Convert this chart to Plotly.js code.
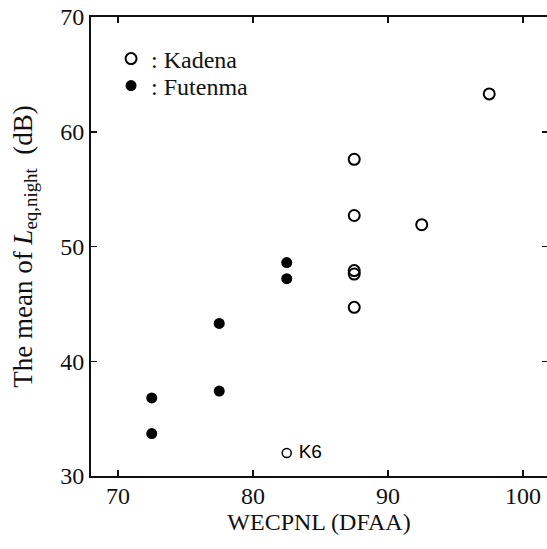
<!DOCTYPE html>
<html>
<head>
<meta charset="utf-8">
<script src="https://cdn.plot.ly/plotly-3.0.1.min.js"></script>
<style>html,body{margin:0;padding:0;background:#fff;}#chart{width:547px;height:549px;}</style>
</head>
<body>
<div id="chart"></div>
<script>
// Data
const kadenaX = [97.5, 87.5, 87.5, 92.5, 87.5, 87.5, 87.5];
const kadenaY = [63.3, 57.6, 52.7, 51.9, 47.9, 47.6, 44.7];
const k6X = [82.5];
const k6Y = [32.0];
const k6Label = ['K6'];
const futenmaX = [72.5, 72.5, 77.5, 77.5, 82.5, 82.5];
const futenmaY = [36.8, 33.7, 43.3, 37.4, 48.6, 47.2];
const xTicks = [70, 80, 90, 100];
const yTicks = [30, 40, 50, 60, 70];

const serif = 'Liberation Serif, Times New Roman, serif';
const legendFont = {family: serif, size: 24, color: '#111'};

const traces = [
  {
    x: kadenaX, y: kadenaY, type: 'scatter', mode: 'markers', name: ': Kadena', legend: 'legend',
    marker: {symbol: 'circle-open', size: 11, color: '#000', line: {width: 2, color: '#000'}}
  },
  {
    x: futenmaX, y: futenmaY, type: 'scatter', mode: 'markers', name: ': Futenma', legend: 'legend2',
    marker: {symbol: 'circle', size: 11, color: '#000'}
  },
  {
    x: k6X, y: k6Y, text: k6Label.map(s => '\u00a0' + s), type: 'scatter', mode: 'markers+text', name: 'K6',
    showlegend: false, textposition: 'middle right',
    textfont: {family: 'Liberation Sans, Arial, sans-serif', size: 19, color: '#000'},
    marker: {symbol: 'circle-open', size: 9, color: '#000', line: {width: 1.5, color: '#000'}}
  },
  {
    x: k6X, y: k6Y, yaxis: 'y2', type: 'scatter', mode: 'markers', showlegend: false, hoverinfo: 'skip',
    marker: {size: 1, opacity: 0}
  }
];

const layout = {
  width: 547, height: 549,
  margin: {l: 91, r: 0, t: 17, b: 73},
  paper_bgcolor: '#fff', plot_bgcolor: '#fff',
  font: {family: serif, size: 24, color: '#111'},
  showlegend: true,
  legend: {
    x: 0.044, y: 0.9575, xanchor: 'left', yanchor: 'top',
    bgcolor: 'rgba(0,0,0,0)', borderwidth: 0, font: legendFont
  },
  legend2: {
    x: 0.044, y: 0.8987, xanchor: 'left', yanchor: 'top',
    bgcolor: 'rgba(0,0,0,0)', borderwidth: 0, font: legendFont
  },
  xaxis: {
    range: [68, 101.78], tickvals: xTicks, ticktext: xTicks.map(String),
    ticks: 'inside', ticklen: 6, tickwidth: 1.5, tickcolor: '#111',
    showline: true, linewidth: 2, linecolor: '#111', mirror: 'ticks',
    showgrid: false, zeroline: false, ticklabelstandoff: -3,
    tickfont: {family: serif, size: 24, color: '#111'},
    title: {text: 'WECPNL (DFAA)', font: {family: serif, size: 24, color: '#111'}, standoff: 4}
  },
  yaxis: {
    range: [30, 70], tickvals: yTicks, ticktext: yTicks.map(String),
    ticks: 'inside', ticklen: 6, tickwidth: 1.5, tickcolor: '#111',
    showline: true, linewidth: 2, linecolor: '#111', mirror: false,
    showgrid: false, zeroline: false,
    tickfont: {family: serif, size: 24, color: '#111'},
    title: {text: 'The mean of <i>L</i><sub>eq,night</sub>  (dB)', font: {family: serif, size: 27, color: '#111'}, standoff: 20}
  },
  yaxis2: {
    overlaying: 'y', side: 'right', matches: 'y', range: [30, 70], tickvals: yTicks,
    ticks: 'inside', ticklen: 5, tickwidth: 1.5, tickcolor: '#111',
    showticklabels: false, showline: false, showgrid: false, zeroline: false
  }
};

Plotly.newPlot('chart', traces, layout, {displayModeBar: false, staticPlot: true});
</script>
</body>
</html>
